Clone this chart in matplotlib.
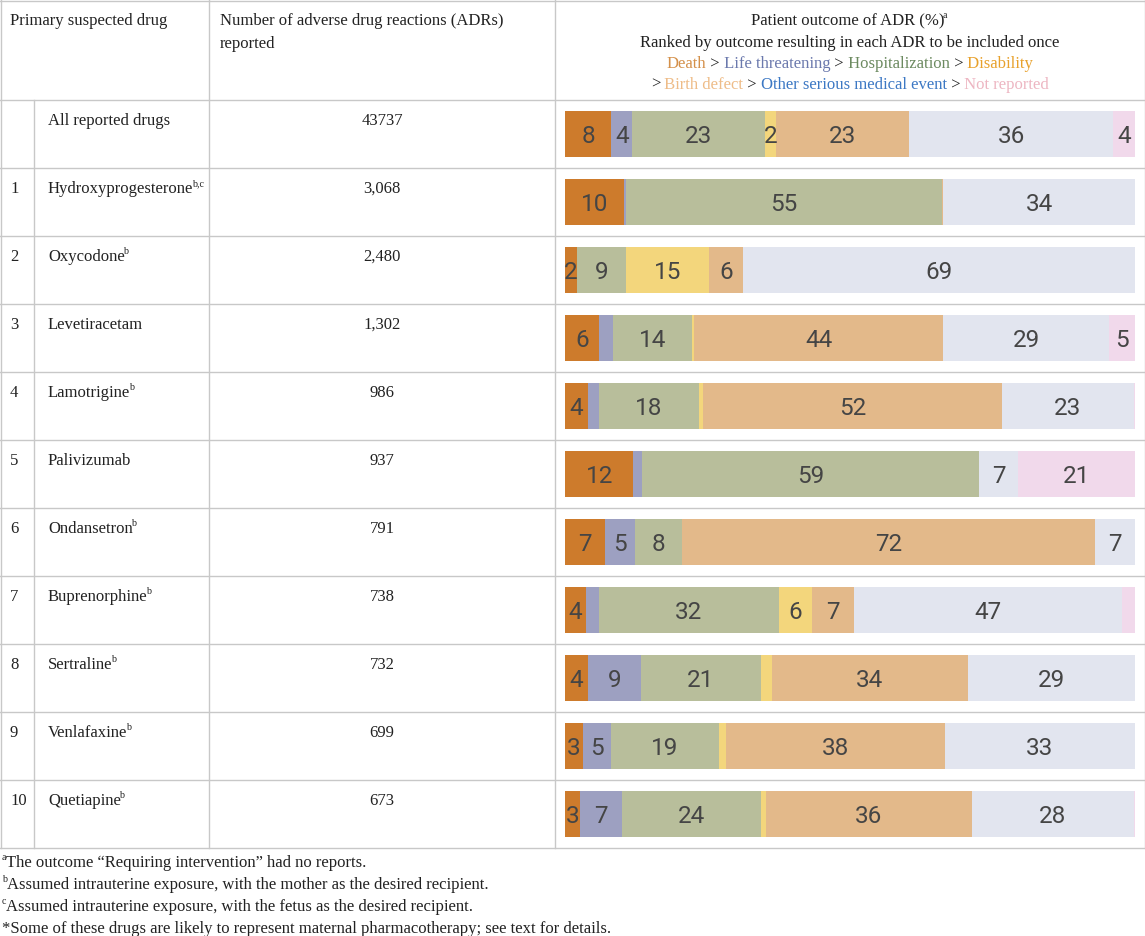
import matplotlib
matplotlib.use('Agg')
import matplotlib.pyplot as plt

# table data
ranks = ['', '1', '2', '3', '4', '5', '6', '7', '8', '9', '10']
drugs = ['All reported drugs', 'Hydroxyprogesterone', 'Oxycodone', 'Levetiracetam',
         'Lamotrigine', 'Palivizumab', 'Ondansetron', 'Buprenorphine',
         'Sertraline', 'Venlafaxine', 'Quetiapine']
drug_notes = ['', 'b,c', 'b', '', 'b', '', 'b', 'b', 'b', 'b', 'b']
adr_counts = ['43737', '3,068', '2,480', '1,302', '986', '937', '791', '738',
              '732', '699', '673']

# patient outcome (%) per drug
outcomes = ['Death', 'Life threatening', 'Hospitalization', 'Disability',
            'Birth defect', 'Other serious medical event', 'Not reported']
death = [8.1, 10.4, 2.1, 6.0, 4.0, 12.0, 7.0, 3.6, 4.0, 3.2, 2.6]
life_threatening = [3.7, 0.3, 0.0, 2.4, 1.9, 1.5, 5.2, 2.3, 9.3, 4.8, 7.4]
hospitalization = [23.3, 55.4, 8.6, 13.9, 17.6, 59.2, 8.4, 31.6, 21.1, 19.1, 24.4]
disability = [1.9, 0.0, 14.6, 0.3, 0.7, 0.0, 0.0, 5.9, 1.9, 1.2, 0.8]
birth_defect = [23.3, 0.3, 5.9, 43.8, 52.4, 0.0, 72.4, 7.3, 34.4, 38.3, 36.2]
other_serious = [35.9, 33.6, 68.8, 29.0, 23.2, 6.7, 7.0, 47.1, 29.3, 33.4, 28.4]
not_reported = [3.8, 0.0, 0.0, 4.6, 0.2, 20.6, 0.0, 2.2, 0.0, 0.0, 0.2]
# segments that carry no number in the original
unlabeled = [(3, 1), (4, 1), (7, 1), (7, 6), (8, 3)]

footnotes = [('a', 'The outcome \u201cRequiring intervention\u201d had no reports.'),
             ('b', 'Assumed intrauterine exposure, with the mother as the desired recipient.'),
             ('c', 'Assumed intrauterine exposure, with the fetus as the desired recipient.'),
             ('', '*Some of these drugs are likely to represent maternal pharmacotherapy; see text for details.')]

bar_colors = ['#CD7B2C', '#9DA0C1', '#B8BE9B', '#F3D67C', '#E3B98A', '#E2E5EF', '#F1D9EB']
head_colors = ['#D4904A', '#6B79AD', '#6C8A60', '#E8A12C', '#EEBC88', '#3C78C4', '#EDB6C2']

SERIF = ['Liberation Serif', 'DejaVu Serif']
LABEL_FONT = ['Roboto', 'DejaVu Sans']
TXT = '#222222'
GRID = '#C8C8C8'
FS = 12

W, H = 1145, 936
fig = plt.figure(figsize=(W / 100, H / 100), dpi=100)
bg = fig.add_axes([0, 0, 1, 1])
bg.set_xlim(0, W)
bg.set_ylim(H, 0)
bg.axis('off')
renderer = fig.canvas.get_renderer()

row_h = 68
row_tops = [100 + row_h * i for i in range(len(drugs) + 1)]

# grid lines
for y in [0.5] + row_tops:
    bg.plot([0, W], [y, y], color=GRID, lw=1.0)
bg.plot([0.5, 0.5], [0, row_tops[-1]], color=GRID, lw=1.0)
bg.plot([W - 0.5, W - 0.5], [0, row_tops[-1]], color=GRID, lw=1.0)
bg.plot([34, 34], [row_tops[0], row_tops[-1]], color=GRID, lw=1.0)
for x in [209, 555]:
    bg.plot([x, x], [0, row_tops[-1]], color=GRID, lw=1.0)


def rich(x, y, pieces, size=FS, ha='left'):
    # pieces: (text, color, superscript)
    arts = []
    for s, c, sup in pieces:
        fs = size * 0.6 if sup else size
        t = bg.text(0, y, s, color=c, fontsize=fs, family=SERIF, va='baseline')
        w = t.get_window_extent(renderer).width
        arts.append((t, sup, w))
    total = sum(a[2] for a in arts)
    x0 = x - total / 2 if ha == 'center' else x
    for k, (t, sup, w) in enumerate(arts):
        if sup:
            t.set_x(x0 - (1.5 if k > 0 else 0))
            t.set_y(y - size * 0.55)
            x0 += w - (1.0 if k > 0 else 0)
        else:
            t.set_x(x0)
            x0 += w


# header
rich(10, 25, [('Primary suspected drug', TXT, False)])
rich(220, 25, [('Number of adverse drug reactions (ADRs)', TXT, False)])
rich(220, 48, [('reported', TXT, False)])
cx = (555 + W) / 2
rich(cx, 25, [('Patient outcome of ADR (%)', TXT, False), ('a', TXT, True)], ha='center')
rich(cx, 47, [('Ranked by outcome resulting in each ADR to be included once', TXT, False)], ha='center')
line3 = []
for i in range(4):
    if i > 0:
        line3.append((' >', TXT, False))
        line3.append((' ' + outcomes[i], head_colors[i], False))
    else:
        line3.append((outcomes[i], head_colors[i], False))
rich(cx, 68, line3, ha='center')
line4 = []
for i in range(4, 7):
    line4.append(('>' if i == 4 else ' >', TXT, False))
    line4.append((' ' + outcomes[i], head_colors[i], False))
rich(cx, 89, line4, ha='center')

# table body
for i in range(len(drugs)):
    base = row_tops[i] + 25
    rich(10, base, [(ranks[i], TXT, False)])
    pieces = [(drugs[i], TXT, False)]
    if drug_notes[i]:
        pieces.append((drug_notes[i], TXT, True))
    rich(48, base, pieces)
    rich(382, base, [(adr_counts[i], TXT, False)], ha='center')

# footnotes
for k, (sup, text) in enumerate(footnotes):
    base = row_tops[-1] + 19 + 22 * k
    pieces = [(sup, TXT, True)] if sup else []
    pieces.append((text, TXT, False))
    rich(2, base, pieces, size=12)

# stacked bars
ax = fig.add_axes([565 / W, (H - row_tops[-1]) / H, 570 / W, (row_tops[-1] - row_tops[0]) / H])
ax.set_xlim(0, 100)
ax.set_ylim(len(drugs) - 0.5, -0.5)
ax.axis('off')

series = [death, life_threatening, hospitalization, disability,
          birth_defect, other_serious, not_reported]
ypos = list(range(len(drugs)))
left = [0.0] * len(drugs)
for j, vals in enumerate(series):
    ax.barh(ypos, vals, left=left, height=0.68, color=bar_colors[j], linewidth=0)
    for i, v in enumerate(vals):
        if v >= 1.8 and (i, j) not in unlabeled:
            ax.text(left[i] + v / 2, i + 0.04, str(int(v + 0.5)), ha='center', va='center',
                    fontsize=17.5, color='#454545', family=LABEL_FONT)
    left = [l + v for l, v in zip(left, vals)]

fig.savefig('out.png', dpi=100)
